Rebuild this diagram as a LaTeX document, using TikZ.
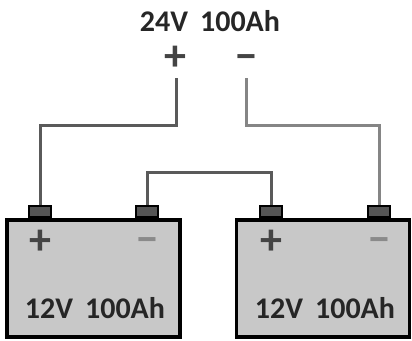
\documentclass[tikz,border=0pt]{standalone}
\usepackage{fontspec}
\setmainfont{Carlito}
\usetikzlibrary{positioning}
\definecolor{batgray}{HTML}{C8C8C8}
\definecolor{termgray}{HTML}{555555}
\definecolor{wiredark}{HTML}{5A5A5A}
\definecolor{wirelight}{HTML}{858585}
\definecolor{plusgray}{HTML}{444444}
\definecolor{minusgray}{HTML}{8A8A8A}
\begin{document}
\begin{tikzpicture}[x=1pt,y=-1pt,
    battery/.style={draw=black, line width=3.5pt, fill=batgray, minimum width=173pt, minimum height=117pt, inner sep=0pt},
    terminal/.style={draw=black, line width=2pt, fill=termgray, minimum width=22pt, minimum height=11pt, inner sep=0pt},
    wire/.style={line width=3pt, line join=miter},
    rating/.style={font=\fontsize{30}{32}\selectfont\bfseries, text=black!85, inner sep=0pt},
    sign/.style={font=\fontsize{44}{44}\selectfont\bfseries, inner sep=0pt, anchor=base}]
    \useasboundingbox (0,0) rectangle (412,340);

    % terminals
    \node[terminal] (t1p) at (40,211.5) {};
    \node[terminal] (t1n) at (147,211.5) {};
    \node[terminal] (t2p) at (271,211.5) {};
    \node[terminal] (t2n) at (379,211.5) {};

    % batteries
    \node[battery] (bat1) at (93.5,278.5) {};
    \node[battery] (bat2) at (323,278.5) {};

    % output ends
    \coordinate (outp) at (176,78);
    \coordinate (outn) at (246,78);

    % wires
    \draw[wire, wiredark] (t1p.north) -- ++(0,-80) -| (outp);
    \draw[wire, wirelight] (outn) -- ++(0,47) -| (t2n.north);
    \draw[wire, wiredark] (t1n.north) -- ++(0,-33) -| (t2p.north);

%labels
    \node[rating] (total) at (210,21) {24V\hspace{0.4em}100Ah};
    \node[sign, text=plusgray] (totp) at (175,70) {+};
    \node[sign, text=plusgray] (totn) at (246,70) {−};
    \node[sign, text=plusgray] (b1p) at (40,254) {+};
    \node[sign, text=minusgray] (b1n) at (147,253) {−};
    \node[sign, text=plusgray] (b2p) at (271,254) {+};
    \node[sign, text=minusgray] (b2n) at (379,253) {−};
    \node[rating] (b1lab) at (95,308) {12V\hspace{0.4em}100Ah};
    \node[rating] (b2lab) at (325,308) {12V\hspace{0.4em}100Ah};

\end{tikzpicture}
\end{document}
